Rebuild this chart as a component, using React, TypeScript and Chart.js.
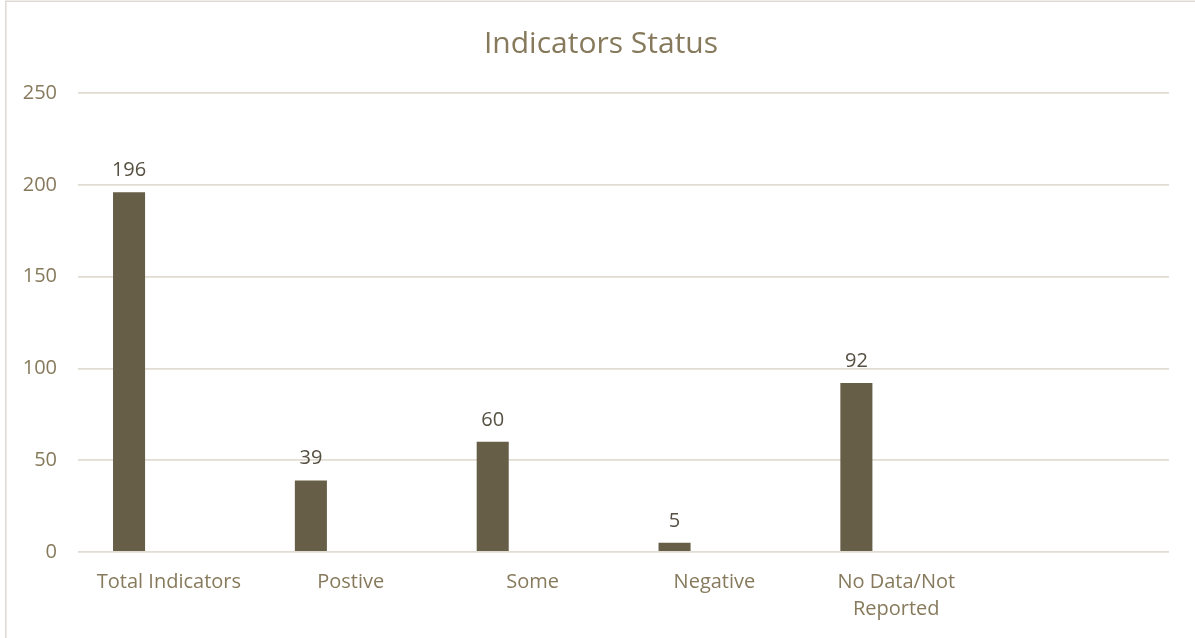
import React, { useEffect, useRef } from "react";
import { Chart, registerables } from "chart.js";

Chart.register(...registerables);

const chartTitle = "Indicators Status";
const categories: (string | string[])[] = [
  "Total Indicators",
  "Postive",
  "Some",
  "Negative",
  ["No Data/Not", "Reported"],
  "",
];
const statusCounts: (number | null)[] = [196, 39, 60, 5, 92, null];
const emptySeries: (number | null)[] = [null, null, null, null, null, null];
const yMin = 0;
const yMax = 250;
const yStep = 50;

const FONT = "'Open Sans', 'DejaVu Sans', sans-serif";
const TAN = "#877a5c";
const BAR = "#665e47";
const VALUE = "#575143";
const GRID = "#e2ddd3";

const decorPlugin = {
  id: "decor",
  beforeDraw(chart: any) {
    const ctx = chart.ctx;
    ctx.save();
    ctx.strokeStyle = "#dedad1";
    ctx.lineWidth = 1.5;
    ctx.beginPath();
    ctx.moveTo(5.75, 638);
    ctx.lineTo(5.75, 1.25);
    ctx.lineTo(1195, 1.25);
    ctx.stroke();
    ctx.fillStyle = TAN;
    ctx.font = `30px ${FONT}`;
    ctx.textAlign = "center";
    ctx.textBaseline = "alphabetic";
    ctx.fillText(chartTitle, 601, 53);
    ctx.restore();
  },
  afterDatasetsDraw(chart: any) {
    const ctx = chart.ctx;
    const meta = chart.getDatasetMeta(0);
    ctx.save();
    ctx.fillStyle = VALUE;
    ctx.font = `20px ${FONT}`;
    ctx.textAlign = "center";
    ctx.textBaseline = "alphabetic";
    meta.data.forEach((el: any, i: number) => {
      const v = statusCounts[i];
      if (v === null || v === undefined) return;
      ctx.fillText(String(v), el.x, el.y - 16);
    });
    ctx.restore();
  },
};

export default function App() {
  const ref = useRef<HTMLCanvasElement | null>(null);

  useEffect(() => {
    document.body.style.margin = "0";
    if (!ref.current) return;
    const chart = new Chart(ref.current, {
      type: "bar",
      data: {
        labels: categories as any,
        datasets: [
          {
            label: "Indicators",
            data: statusCounts,
            backgroundColor: BAR,
            categoryPercentage: 0.877,
            barPercentage: 0.402,
          },
          {
            label: "",
            data: emptySeries,
            backgroundColor: BAR,
            categoryPercentage: 0.877,
            barPercentage: 0.402,
          },
        ],
      },
      options: {
        animation: false,
        responsive: false,
        maintainAspectRatio: false,
        layout: { padding: { top: 93, right: 26, bottom: 0, left: 0 } },
        plugins: {
          legend: { display: false },
          title: { display: false },
          tooltip: { enabled: false },
        },
        scales: {
          x: {
            grid: { display: false, drawTicks: false },
            border: { display: false },
            ticks: {
              color: TAN,
              font: { family: FONT, size: 20, lineHeight: 1.35 },
              padding: 17,
              maxRotation: 0,
              autoSkip: false,
            },
            afterFit(scale: any) {
              scale.height = 86;
            },
          },
          y: {
            min: yMin,
            max: yMax,
            grid: { color: GRID, lineWidth: 1.8, drawTicks: false },
            border: { display: false },
            ticks: {
              stepSize: yStep,
              color: TAN,
              font: { family: FONT, size: 20 },
              padding: 21,
            },
            afterFit(scale: any) {
              scale.width = 78;
            },
          },
        },
      },
      plugins: [decorPlugin],
    });
    return () => chart.destroy();
  }, []);

  return (
    <div style={{ width: 1195, height: 638, position: "relative" }}>
      <canvas ref={ref} width={1195} height={638} style={{ display: "block" }} />
    </div>
  );
}
